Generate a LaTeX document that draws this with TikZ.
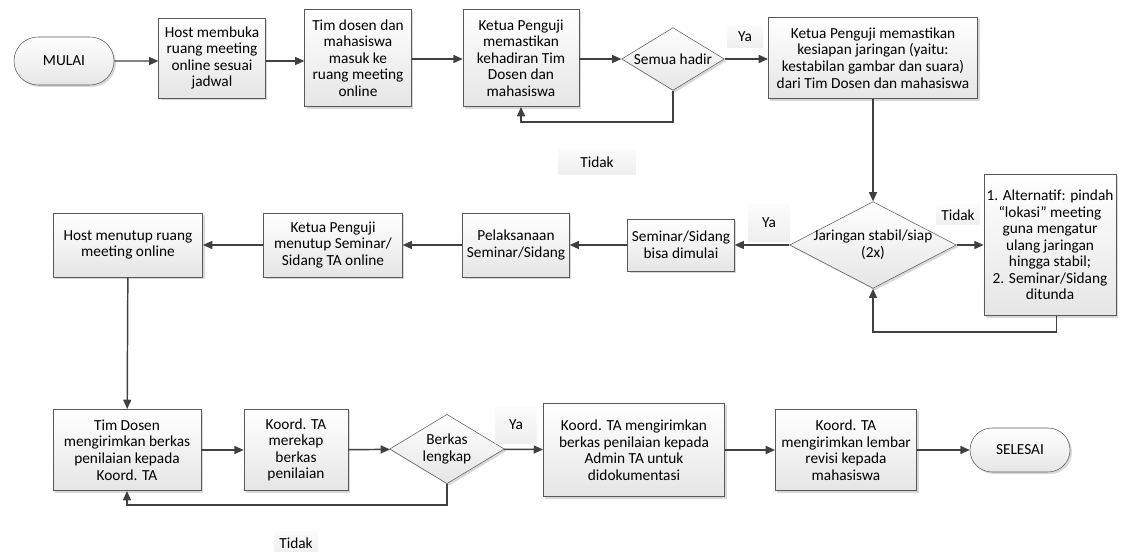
\documentclass[tikz,border=0pt]{standalone}
\usepackage{fontspec}
\setmainfont{Carlito}
\usetikzlibrary{shapes,arrows.meta,shadows}
\tikzset{
	proc/.style     = {draw=black!65, thin, rectangle, align=center, inner sep=2pt,
		top color=white, bottom color=gray!20,
		drop shadow={shadow xshift=1.5pt, shadow yshift=-1.5pt, fill=gray!60, opacity=.5}},
	term/.style     = {proc, rounded rectangle},
	decision/.style = {proc, diamond, aspect=1.6, inner sep=-4pt},
	answer/.style   = {top color=gray!3, bottom color=gray!13, align=center}, % Ya / Tidak
	flow/.style     = {draw=black!75, line width=1.1pt}
}

\begin{document}
\begin{tikzpicture}[x=0.75pt, y=-0.75pt, >={Triangle[length=7pt,width=6pt]},
	font=\fontsize{11.5}{12.4}\selectfont]
	\useasboundingbox (0,0) rectangle (1123,552);
	\draw
	% Drawing the blocks of the first row
	node at (64,61) [term, minimum width=79pt, minimum height=36pt] (mulai) {MULAI}
	node at (212,58) [proc, minimum width=80pt, minimum height=60pt] (buka) {Host membuka\\ruang meeting\\online sesuai\\jadwal}
	node at (358,58) [proc, minimum width=80pt, minimum height=73pt] (masuk) {Tim dosen dan\\mahasiswa\\masuk ke\\ruang meeting\\online}
	node at (521,58) [proc, minimum width=87pt, minimum height=73pt] (hadir) {Ketua Penguji\\memastikan\\kehadiran Tim\\Dosen dan\\mahasiswa}
	node at (673,59) [decision, minimum width=77pt, minimum height=47pt] (semua) {Semua hadir}
	node at (873,58) [proc, minimum width=157pt, minimum height=61pt] (siap) {Ketua Penguji memastikan\\kesiapan jaringan (yaitu:\\kestabilan gambar dan suara)\\dari Tim Dosen dan mahasiswa}
	% Drawing the blocks of the second row
	node at (873,245) [decision, aspect=2, minimum width=125pt, minimum height=65pt] (stabil) {Jaringan stabil/siap\\(2x)}
	node at (1050,245) [proc, minimum width=95pt, minimum height=106pt] (alt) {1. Alternatif: pindah\\“lokasi” meeting\\guna mengatur\\ulang jaringan\\hingga stabil;\\2. Seminar/Sidang\\ditunda}
	node at (681,245) [proc, minimum width=80pt, minimum height=39pt] (mulaisidang) {Seminar/Sidang\\bisa dimulai}
	node at (516,245) [proc, minimum width=80pt, minimum height=48pt] (laksana) {Pelaksanaan\\Seminar/Sidang}
	node at (333,245) [proc, minimum width=104pt, minimum height=48pt] (tutupsidang) {Ketua Penguji\\menutup Seminar/\\Sidang TA online}
	node at (128,245) [proc, minimum width=112pt, minimum height=48pt] (tutupruang) {Host menutup ruang\\meeting online}
	% Drawing the blocks of the third row
	node at (127,450) [proc, minimum width=111pt, minimum height=61pt] (kirim) {Tim Dosen\\mengirimkan berkas\\penilaian kepada\\Koord. TA}
	node at (296,450) [proc, minimum width=78pt, minimum height=61pt] (rekap) {Koord. TA\\merekap\\berkas\\penilaian}
	node at (447,449) [decision, minimum width=86pt, minimum height=52pt] (lengkap) {Berkas\\lengkap}
	node at (634,450) [proc, minimum width=136pt, minimum height=70pt] (admin) {Koord. TA mengirimkan\\berkas penilaian kepada\\Admin TA untuk\\didokumentasi}
	node at (846,450) [proc, minimum width=106pt, minimum height=61pt] (revisi) {Koord. TA\\mengirimkan lembar\\revisi kepada\\mahasiswa}
	node at (1020,450) [term, minimum width=79pt, minimum height=33pt] (selesai) {SELESAI}
	;

	% Ya / Tidak
	\node at (745,37) [answer, minimum width=27pt, minimum height=16pt] (ya1) {Ya};
	\node at (597,162) [answer, minimum width=58pt, minimum height=19pt] (tidak1) {Tidak};
	\node at (769,223) [answer, minimum width=31pt, minimum height=28pt] (ya2) {Ya};
	\node at (958,215) [answer, minimum width=32pt, minimum height=15pt] (tidak2) {Tidak};
	\node at (516,425) [answer, minimum width=31pt, minimum height=27pt] (ya3) {Ya};
	\node at (296,543) [answer, minimum width=33pt, minimum height=18pt] (tidak3) {Tidak};

	\coordinate (back1) at (600,122);
	\coordinate (back2) at (960,332);
	\coordinate (back3) at (300,505);

	\draw[flow,->] (mulai) -- (buka.west |- mulai);
	\draw[flow,->] (buka.east |- mulai) -- (masuk.west |- mulai);
	\draw[flow,->] (masuk.east |- semua) -- (hadir.west |- semua);
	\draw[flow,->] (hadir.east |- semua) -- (semua);
	\draw[flow,->] (semua.east) -- (siap.west |- semua);
	\draw[flow,->] (semua.south) |- (back1) -| (hadir.south);
	\draw[flow,->] (siap) -- (stabil);
	\draw[flow,->] (stabil) -- (alt);
	\draw[flow,->] ([xshift=5pt]alt.south) |- (back2) -| (stabil.south);
	\draw[flow,->] (stabil) -- (mulaisidang);
	\draw[flow,->] (mulaisidang) -- (laksana);
	\draw[flow,->] (laksana) -- (tutupsidang);
	\draw[flow,->] (tutupsidang) -- (tutupruang);
	\draw[flow,->] (tutupruang) -- (kirim);
	\draw[flow,->] (kirim) -- (rekap);
	\draw[flow,->] (rekap) -- (lengkap);
	\draw[flow,->] (lengkap) -- (admin);
	\draw[flow,->] (admin) -- (revisi);
	\draw[flow,->] (revisi) -- (selesai);
	\draw[flow,->] (lengkap.south) |- (back3) -| (kirim.south);
\end{tikzpicture}
\end{document}
